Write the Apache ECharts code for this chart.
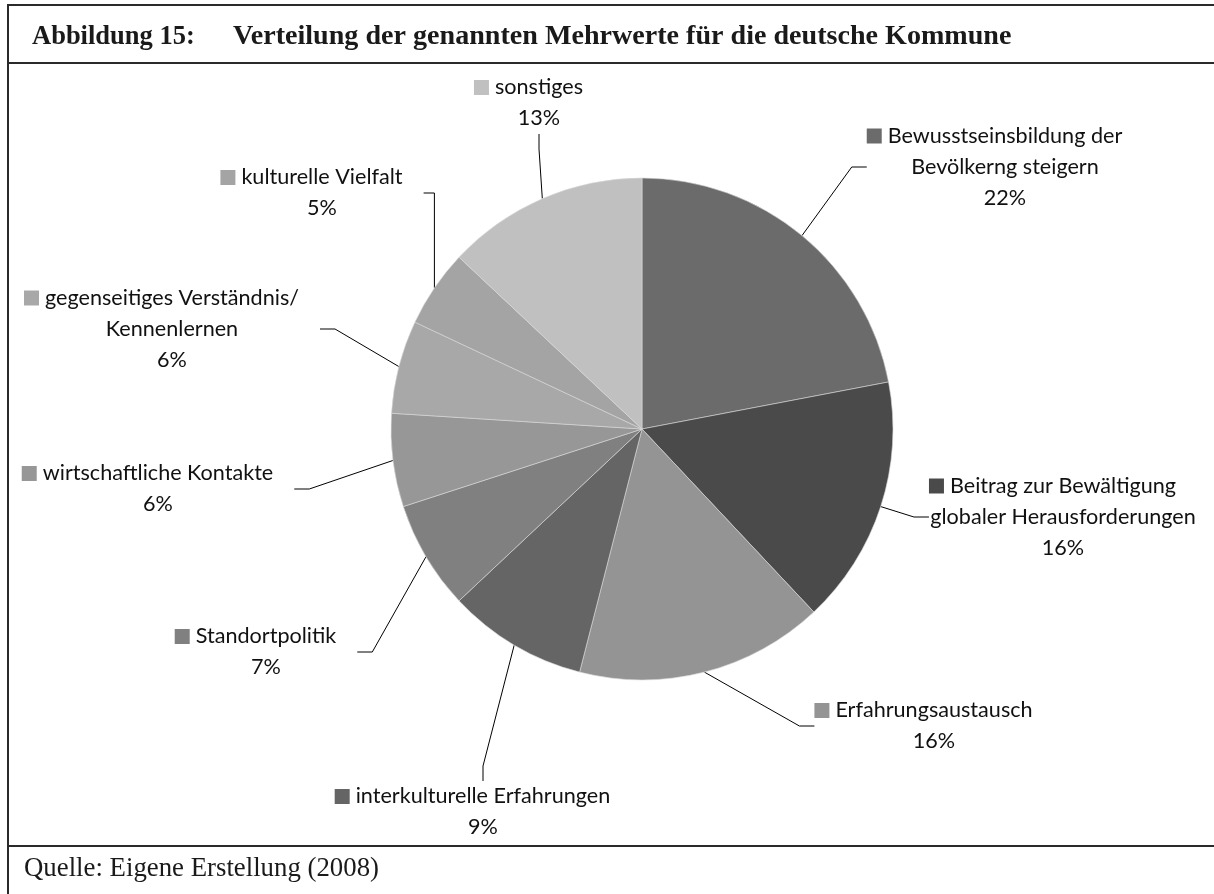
<!DOCTYPE html>
<html>
<head>
<meta charset="utf-8">
<script src="https://cdn.jsdelivr.net/npm/echarts@6/dist/echarts.min.js"></script>
<style>
  html, body { margin: 0; padding: 0; background: #fff; }
  #chart { width: 1214px; height: 894px; }
</style>
</head>
<body>
<div id="chart"></div>
<script>
// Abbildung 15: Verteilung der genannten Mehrwerte (Anteile in %)
const categories = [
  'Bewusstseinsbildung der\nBevölkerng steigern',
  'Beitrag zur Bewältigung\nglobaler Herausforderungen',
  'Erfahrungsaustausch',
  'interkulturelle Erfahrungen',
  'Standortpolitik',
  'wirtschaftliche Kontakte',
  'gegenseitiges Verständnis/\nKennenlernen',
  'kulturelle Vielfalt',
  'sonstiges'
]
const shares = [22, 16, 16, 9, 7, 6, 6, 5, 13]
const sliceColors = ['#6b6b6b', '#4a4a4a', '#949494', '#656565', '#808080', '#979797', '#a8a8a8', '#a4a4a4', '#c0c0c0']

// where the label blocks sit (centre of text block)
const labelSpots = [
  [1005, 167], [1063, 517], [934, 726], [483, 812], [266, 652],
  [158, 489], [172, 329], [322, 193], [539, 103]
]

const rich = {
  gap: { width: 6 },
  pad: { width: 21 }
}
sliceColors.forEach((c, i) => {
  rich['sq' + i] = { width: 15, height: 15, backgroundColor: c }
})

const serif = { fontFamily: 'Liberation Serif', fill: '#1a1a1a', verticalAlign: 'middle' }

const chart = echarts.init(document.getElementById('chart'))
chart.setOption({
  animation: false,
  color: sliceColors,
  graphic: [
    { type: 'line', shape: { x1: 7, y1: 5, x2: 1214, y2: 5 }, style: { stroke: '#2a2a2a', lineWidth: 2 } },
    { type: 'line', shape: { x1: 7, y1: 63, x2: 1214, y2: 63 }, style: { stroke: '#2a2a2a', lineWidth: 2 } },
    { type: 'line', shape: { x1: 7, y1: 846, x2: 1214, y2: 846 }, style: { stroke: '#2a2a2a', lineWidth: 2 } },
    { type: 'line', shape: { x1: 8, y1: 4, x2: 8, y2: 894 }, style: { stroke: '#2a2a2a', lineWidth: 2 } },
    {
      type: 'text', x: 32, y: 37,
      style: Object.assign({ text: 'Abbildung 15:', fontSize: 26.5, fontWeight: 'bold' }, serif)
    },
    {
      type: 'text', x: 233, y: 37,
      style: Object.assign({ text: 'Verteilung der genannten Mehrwerte für die deutsche Kommune', fontSize: 28.1, fontWeight: 'bold' }, serif)
    },
    {
      type: 'text', x: 24, y: 869,
      style: Object.assign({ text: 'Quelle: Eigene Erstellung (2008)', fontSize: 26.8 }, serif)
    }
  ],
  series: [
    {
      type: 'pie',
      center: [642, 429],
      radius: 251,
      startAngle: 90,
      clockwise: true,
      itemStyle: { borderColor: '#d8d8d8', borderWidth: 0.6 },
      label: {
        show: true,
        position: 'outside',
        fontFamily: 'Lato',
        fontSize: 21.6,
        lineHeight: 31,
        color: '#111',
        align: 'center',
        rich,
        formatter (p) {
          const lines = p.name.split('\n')
          let txt = '{sq' + p.dataIndex + '|}{gap|}' + lines[0] + '{pad|}'
          for (let k = 1; k < lines.length; k++) txt += '\n' + lines[k]
          return txt + '\n' + p.value + '%'
        }
      },
      labelLine: {
        show: true,
        length: 10,
        length2: 15,
        lineStyle: { color: '#000', width: 1 }
      },
      labelLayout (params) {
        const spot = labelSpots[params.dataIndex]
        return { x: spot[0], y: spot[1], align: 'center', verticalAlign: 'middle' }
      },
      emphasis: { disabled: true },
      data: categories.map((name, i) => ({ name, value: shares[i] }))
    }
  ]
})
</script>
</body>
</html>
